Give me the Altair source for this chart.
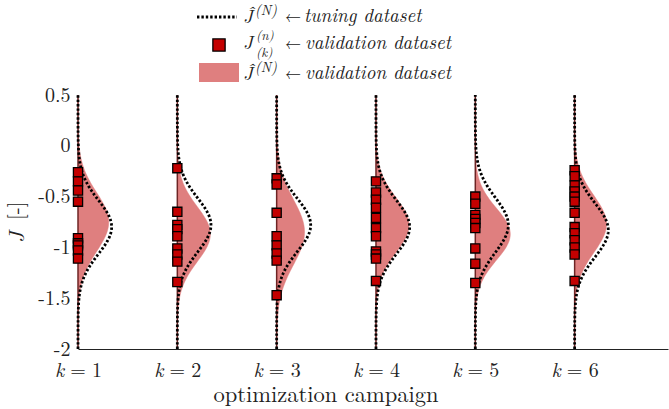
import altair as alt
import pandas as pd

SERIF = "Latin Modern Roman"
INK = "#222222"
FILL_RED = "#DF7F7F"
SQUARE_RED = "#C40000"
LINE_RED = "#6E2424"

# optimization campaigns
campaigns = [1, 2, 3, 4, 5, 6]
campaign_text = ["1", "2", "3", "4", "5", "6"]

# validation runs J_(k)^(n) of each campaign
J_k1 = [-0.26, -0.35, -0.44, -0.55, -0.91, -0.96, -0.98, -1.03, -1.11]
J_k2 = [-0.22, -0.65, -0.78, -0.82, -0.89, -1.01, -1.07, -1.14, -1.34]
J_k3 = [-0.32, -0.38, -0.66, -0.89, -0.98, -1.06, -1.13, -1.47]
J_k4 = [-0.35, -0.46, -0.53, -0.61, -0.71, -0.81, -0.89, -1.04, -1.07, -1.11, -1.33]
J_k5 = [-0.50, -0.57, -0.68, -0.72, -0.76, -0.81, -1.01, -1.16, -1.35]
J_k6 = [-0.24, -0.30, -0.39, -0.45, -0.50, -0.55, -0.66, -0.80, -0.86, -0.93,
        -1.00, -1.07, -1.33]

# normal fits J^(N): mean and standard deviation
val_mu = [-0.75, -0.87, -0.85, -0.78, -0.87, -0.77]
val_sd = [0.29, 0.27, 0.32, 0.27, 0.255, 0.28]
tune_mu = [-0.80, -0.78, -0.78, -0.80, -0.78, -0.83]
tune_sd = [0.265, 0.265, 0.262, 0.265, 0.27, 0.265]

# horizontal extent of one unit of probability density
PDF_WIDTH = 0.225

points = pd.DataFrame(
    [(k, j) for k, js in zip(campaigns, [J_k1, J_k2, J_k3, J_k4, J_k5, J_k6]) for j in js],
    columns=["k", "J"],
)
fits = pd.DataFrame(
    {"k": campaigns, "val_mu": val_mu, "val_sd": val_sd,
     "tune_mu": tune_mu, "tune_sd": tune_sd, "label": campaign_text}
)

x_scale = alt.Scale(domain=[1, 6.94], nice=False, zero=False)
y_scale = alt.Scale(domain=[-2, 0.5], nice=False, zero=False)

x_axis = alt.Axis(labels=False, ticks=False, grid=False, title=None,
                  domainColor=INK, domainWidth=1)
y_axis = alt.Axis(
    values=[-2, -1.5, -1, -0.5, 0, 0.5], labelExpr="toString(datum.value)",
    labelFont=SERIF, labelFontSize=20, labelColor=INK, labelPadding=8,
    ticks=False, grid=False, domain=False, title=None,
)

# density curves sampled along J
curves = (
    alt.Chart(fits)
    .transform_calculate(grid="sequence(-2, 0.5001, 0.005)")
    .transform_flatten(["grid"])
    .transform_calculate(
        xv=f"datum.k + {PDF_WIDTH} * densityNormal(datum.grid, datum.val_mu, datum.val_sd)",
        xt=f"datum.k + {PDF_WIDTH} * densityNormal(datum.grid, datum.tune_mu, datum.tune_sd)",
    )
)

# validation fit: closed outline filled from the campaign axis
val_fill = curves.mark_line(
    fill=FILL_RED, stroke=FILL_RED, strokeWidth=0.5, opacity=1
).encode(
    y=alt.Y("grid:Q", scale=y_scale, axis=y_axis),
    x=alt.X("xv:Q", scale=x_scale, axis=x_axis),
    detail="k:N",
    order=alt.Order("grid:Q"),
)

spine = alt.Chart(fits).mark_rule(color=LINE_RED, strokeWidth=1.5).encode(
    x=alt.X("k:Q", scale=x_scale),
    y=alt.datum(-2),
    y2=alt.datum(0.5),
)

tune_line = curves.mark_line(
    color="black", strokeWidth=2.8, strokeDash=[2.4, 2.0], strokeCap="butt"
).encode(
    y=alt.Y("grid:Q", scale=y_scale),
    x=alt.X("xt:Q", scale=x_scale),
    detail="k:N",
    order=alt.Order("grid:Q"),
)

squares = alt.Chart(points).mark_square(
    size=84, filled=True, color=SQUARE_RED, stroke="black", strokeWidth=1.3, opacity=1
).encode(
    x=alt.X("k:Q", scale=x_scale),
    y=alt.Y("J:Q", scale=y_scale),
)

# x tick labels "k = n"
tick_base = alt.Chart(fits).encode(x=alt.X("k:Q", scale=x_scale), y=alt.value(282))
tick_k = tick_base.mark_text(
    font=SERIF, fontSize=20, fontStyle="italic", align="center", baseline="alphabetic",
    color=INK, dx=-18.5, text="k",
)
tick_eq = tick_base.mark_text(
    font=SERIF, fontSize=20, align="center", baseline="alphabetic", color=INK, dx=0, text="=",
)
tick_n = tick_base.mark_text(
    font=SERIF, fontSize=20, align="center", baseline="alphabetic", color=INK, dx=19,
).encode(text="label:N")


def label(s, x, y, size=19, italic=False, align="left", angle=0):
    return alt.Chart(pd.DataFrame({"t": [s]})).mark_text(
        font=SERIF, fontSize=size, fontStyle="italic" if italic else "normal",
        align=align, baseline="alphabetic", angle=angle, color=INK,
    ).encode(text="t:N", x=alt.value(x), y=alt.value(y))


x_title = label("optimization campaign", 248, 307, size=22.5, align="center")
y_title_j = label("J", -54, 148, size=22, italic=True, angle=270)
y_title_u = label("[-]", -55, 125, size=21, angle=270)

# legend
leg_dots = alt.Chart(fits.head(1)).mark_rule(
    color="black", strokeWidth=2.8, strokeDash=[2.4, 2.0], strokeCap="butt"
).encode(x=alt.value(119), x2=alt.value(159), y=alt.value(-78))
leg_square = alt.Chart(fits.head(1)).mark_square(
    size=150, filled=True, color=SQUARE_RED, stroke="black", strokeWidth=1.3, opacity=1
).encode(x=alt.value(141), y=alt.value(-50))
leg_patch = alt.Chart(fits.head(1)).mark_rect(color=FILL_RED).encode(
    x=alt.value(121), x2=alt.value(161), y=alt.value(-32), y2=alt.value(-13)
)

legend_text = [
    label("Ĵ", 165, -72, size=19, italic=True),
    label("(N)", 177, -80, size=14, italic=True),
    label("←", 207, -73, size=16),
    label("tuning dataset", 226, -73, size=19, italic=True),
    label("J", 165, -46, size=19, italic=True),
    label("(n)", 178, -55, size=13, italic=True),
    label("(k)", 178, -38, size=13, italic=True),
    label("←", 207, -46, size=16),
    label("validation dataset", 227, -46, size=19, italic=True),
    label("Ĵ", 165, -15, size=19, italic=True),
    label("(N)", 177, -23, size=14, italic=True),
    label("←", 207, -16, size=16),
    label("validation dataset", 227, -16, size=19, italic=True),
]

chart = alt.layer(
    val_fill, spine, tune_line, squares,
    tick_k, tick_eq, tick_n, x_title, y_title_j, y_title_u,
    leg_dots, leg_square, leg_patch, *legend_text,
).properties(
    width=590, height=254,
    autosize=alt.AutoSizeParams(type="none"),
    padding={"left": 78, "top": 95, "right": 1, "bottom": 60},
    background="white",
).configure_view(stroke=None)

chart.save("out.html", embed_options={"renderer": "svg", "actions": False})
